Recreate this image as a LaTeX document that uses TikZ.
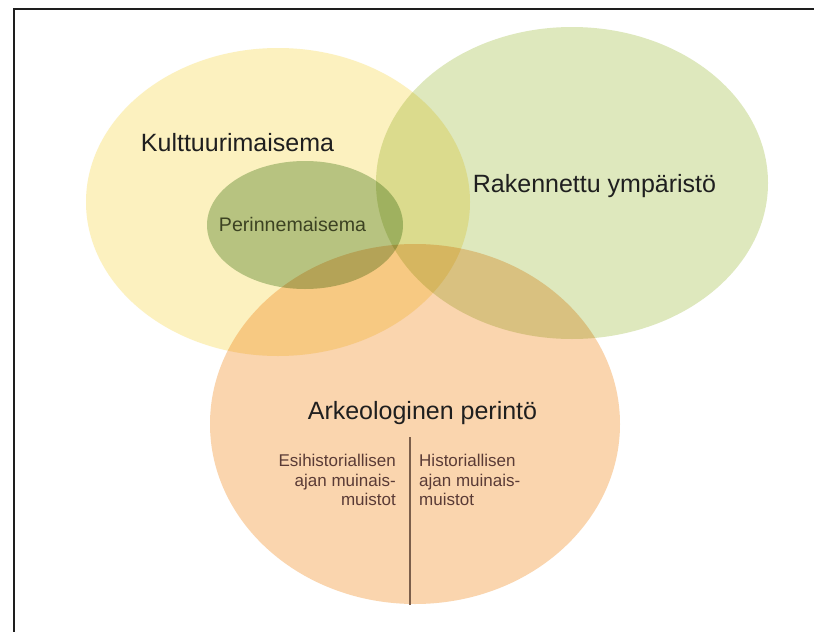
\documentclass[tikz,border=0pt]{standalone}
\usepackage{fontspec}
\setmainfont{Liberation Sans}
\usepackage{tikz}
\usetikzlibrary{shapes.geometric,positioning}

\definecolor{kultfill}{HTML}{FCF1BF}
\definecolor{rakfill}{HTML}{DEE8BD}
\definecolor{arkfill}{HTML}{FAD5AE}
\definecolor{perfill}{HTML}{BACFAC}
\definecolor{bigtext}{HTML}{1F1F1F}
\definecolor{pertext}{HTML}{3C4222}
\definecolor{smalltext}{HTML}{5A3B36}
\definecolor{divline}{HTML}{7B5E4A}
\definecolor{frameline}{HTML}{1E1E1E}

\begin{document}
\begin{tikzpicture}[x=1pt,y=-1pt,
    area/.style={ellipse,draw=none,inner sep=0pt},
    biglabel/.style={font=\fontsize{25}{30}\selectfont,text=bigtext,inner sep=0pt,anchor=base},
    perlabel/.style={font=\fontsize{19.6}{23}\selectfont,text=pertext,inner sep=0pt,anchor=base},
    smalllabel/.style={font=\fontsize{17}{19.5}\selectfont,text=smalltext,inner sep=0pt},
    divider/.style={draw=divline,line width=1.5pt},
    framestroke/.style={draw=frameline,line width=2pt}]
      \useasboundingbox (0,0) rectangle (814,632);
      \fill[white] (0,0) rectangle (814,632);

      \begin{scope}[blend mode=multiply]
        \node[area,fill=kultfill,minimum width=384pt,minimum height=308pt] (kult) at (278,202) {};
        \node[area,fill=rakfill,minimum width=392pt,minimum height=312pt] (rak) at (572,183) {};
        \node[area,fill=arkfill,minimum width=410pt,minimum height=360pt] (ark) at (415,424) {};
        \node[area,fill=perfill,minimum width=196pt,minimum height=128pt] (per) at (305,225) {};
      \end{scope}

      \node[biglabel] (kultname) at (237.5,151.5) {Kulttuurimaisema};
      \node[biglabel] (rakname) at (594.5,192) {Rakennettu ympäristö};
      \node[perlabel] (pername) at (292.5,231.5) {Perinnemaisema};
      \node[biglabel] (arkname) at (422.5,419.5) {Arkeologinen perintö};

      \coordinate (divtop) at (410,437);
      \coordinate (divbot) at (410,605);
      \path[divider] (divtop) -- (divbot);

      \node[smalllabel,align=right] (esihist) [below left=17pt and 14pt of divtop] {
        Esihistoriallisen\\
        ajan muinais-\\
        muistot
      };
      \node[smalllabel,align=left] (hist) [below right=17pt and 9pt of divtop] {
        Historiallisen\\
        ajan muinais-\\
        muistot
      };

      \coordinate (frametl) at (14,9);
      \coordinate (frametr) at (814,9);
      \coordinate (framebl) at (14,632);
      \path[framestroke] (frametr) -- (frametl) -- (framebl);
    \end{tikzpicture}
\end{document}
